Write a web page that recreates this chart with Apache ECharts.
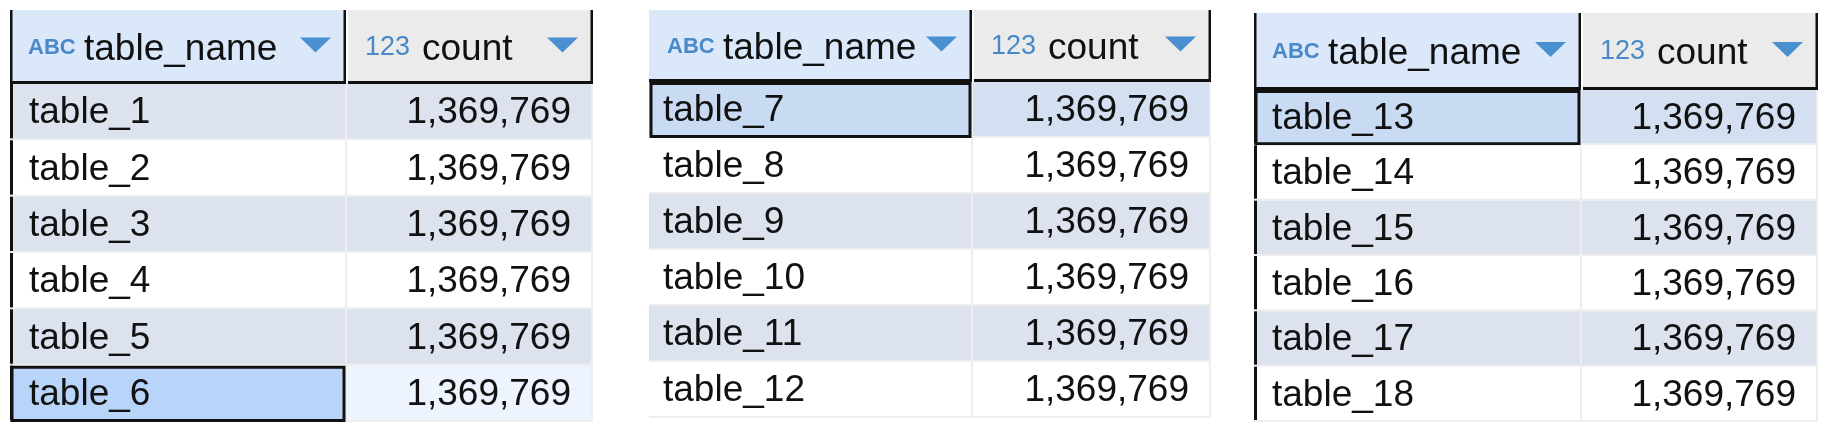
<!DOCTYPE html>
<html>
<head>
<meta charset="utf-8">
<title>table counts</title>
<script src="https://cdn.jsdelivr.net/npm/echarts@6/dist/echarts.min.js"></script>
<style>
  html, body { margin: 0; padding: 0; background: #fff; }
  #main { width: 1830px; height: 432px; }
</style>
</head>
<body>
<div id="main"></div>
<script>
// column headers of every result table
var headerNames = ['table_name', 'count'];
var headerTypes = ['ABC', '123'];

// rows of the three result tables
var names1 = ['table_1', 'table_2', 'table_3', 'table_4', 'table_5', 'table_6'];
var counts1 = [1369769, 1369769, 1369769, 1369769, 1369769, 1369769];
var names2 = ['table_7', 'table_8', 'table_9', 'table_10', 'table_11', 'table_12'];
var counts2 = [1369769, 1369769, 1369769, 1369769, 1369769, 1369769];
var names3 = ['table_13', 'table_14', 'table_15', 'table_16', 'table_17', 'table_18'];
var counts3 = [1369769, 1369769, 1369769, 1369769, 1369769, 1369769];

// focused cell in each table
var selected = ['table_6', 'table_7', 'table_13'];

var tables = [
  { names: names1, counts: counts1 },
  { names: names2, counts: counts2 },
  { names: names3, counts: counts3 }
];

// where each table sits on the page
var layout = [
  { left: 10, split: 347, right: 593, top: 10, head: 84, bottom: 422, pad: 19, edge: true },
  { left: 649, split: 973, right: 1211, top: 10, head: 82, bottom: 418, pad: 14, edge: false },
  { left: 1254, split: 1582, right: 1818, top: 13, head: 90, bottom: 422, pad: 18, edge: true }
];

var FONT = '"Liberation Sans", Arial, sans-serif';
var ODD = '#dce3ee', EVEN = '#ffffff', LINE = '#eeeeee', DARK = '#111111';

function fmt(n) {
  return n.toLocaleString('en-US');
}

function cellItem(t, col) {
  var lay = layout[t];
  var tab = tables[t];
  return function (params, api) {
    var cs = params.coordSys;
    var idx = api.value(1);
    var cy = api.coord([0, idx])[1];
    var h = api.size([0, 1])[1];
    var y0 = cy - h / 2;
    var isSel = tab.names[idx] === selected[t];
    var odd = idx % 2 === 0;
    var fill = odd ? ODD : EVEN;
    if (isSel && col === 1) fill = odd ? '#d4e0f1' : '#edf4fe';
    var kids = [
      { type: 'rect', shape: { x: cs.x, y: y0, width: cs.width, height: h }, style: { fill: fill } },
      { type: 'rect', shape: { x: cs.x, y: y0 + h - 2, width: cs.width, height: 2 }, style: { fill: LINE } },
      { type: 'rect', shape: { x: cs.x + cs.width - 2, y: y0, width: 2, height: h }, style: { fill: LINE } }
    ];
    if (col === 0) {
      if (lay.edge) {
        kids.push({ type: 'rect', shape: { x: cs.x, y: y0, width: 3, height: h - 2 }, style: { fill: DARK } });
      }
      if (isSel) {
        kids.push({
          type: 'rect',
          shape: { x: cs.x + 2, y: y0 + 1.5, width: cs.width - 5, height: h - 3 },
          style: { fill: odd ? '#c8dbf3' : '#b8d4f8', stroke: DARK, lineWidth: 3 }
        });
      }
      kids.push({
        type: 'text',
        style: {
          x: cs.x + lay.pad, y: cy + 1, text: tab.names[idx],
          font: '37px ' + FONT, fill: '#111', align: 'left', verticalAlign: 'middle'
        }
      });
    } else {
      kids.push({
        type: 'text',
        style: {
          x: cs.x + cs.width - 22, y: cy + 1, text: fmt(tab.counts[idx]),
          font: '37px ' + FONT, fill: '#111', align: 'right', verticalAlign: 'middle'
        }
      });
    }
    return { type: 'group', children: kids };
  };
}

function headerGraphics(t) {
  var lay = layout[t];
  var cy = (lay.top + lay.head - 3) / 2 + 1;
  var out = [];
  var cols = [
    { x0: lay.left, x1: lay.split - 1, bg: '#dbe8fa', leftEdge: lay.edge },
    { x0: lay.split + 1, x1: lay.right, bg: '#ebebeb', leftEdge: false }
  ];
  cols.forEach(function (c, i) {
    out.push({ type: 'rect', shape: { x: c.x0, y: lay.top, width: c.x1 - c.x0, height: lay.head - lay.top }, style: { fill: c.bg } });
    out.push({ type: 'rect', shape: { x: c.x0, y: lay.head - 3, width: c.x1 - c.x0, height: 3 }, style: { fill: DARK } });
    out.push({ type: 'rect', shape: { x: c.x1 - 2.5, y: lay.top, width: 2.5, height: lay.head - lay.top }, style: { fill: DARK } });
    if (c.leftEdge) {
      out.push({ type: 'rect', shape: { x: c.x0, y: lay.top, width: 2.5, height: lay.head - lay.top }, style: { fill: DARK } });
    }
    out.push({
      type: 'text',
      style: {
        x: i === 0 ? c.x0 + 18 : c.x0 + 17, y: cy + 1, text: headerTypes[i],
        font: i === 0 ? 'bold 22px ' + FONT : '27px ' + FONT,
        fill: '#4a89c9', align: 'left', verticalAlign: 'middle'
      }
    });
    out.push({
      type: 'text',
      style: {
        x: c.x0 + 74, y: cy + 3, text: headerNames[i],
        font: '37px ' + FONT, fill: '#111', align: 'left', verticalAlign: 'middle'
      }
    });
    var tr = c.x1 - 15;
    out.push({
      type: 'polygon',
      shape: { points: [[tr - 31, cy - 9], [tr, cy - 9], [tr - 15.5, cy + 6]] },
      style: { fill: '#4a8fd0' }
    });
  });
  return out;
}

var grids = [], xAxes = [], yAxes = [], series = [], graphics = [];
layout.forEach(function (lay, t) {
  var spans = [[lay.left, lay.split], [lay.split, lay.right]];
  spans.forEach(function (s, col) {
    var gi = grids.length;
    grids.push({ left: s[0], width: s[1] - s[0], top: lay.head, height: lay.bottom - lay.head, show: false });
    xAxes.push({ type: 'value', gridIndex: gi, min: 0, max: 1, show: false });
    yAxes.push({ type: 'category', gridIndex: gi, data: tables[t].names, inverse: true, show: false });
    series.push({
      type: 'custom',
      xAxisIndex: gi,
      yAxisIndex: gi,
      silent: true,
      renderItem: cellItem(t, col),
      data: tables[t].names.map(function (n, i) { return [0, n, tables[t].counts[i]]; })
    });
  });
  graphics = graphics.concat(headerGraphics(t));
});

var chart = echarts.init(document.getElementById('main'), null, { renderer: 'canvas' });
chart.setOption({
  animation: false,
  backgroundColor: '#ffffff',
  grid: grids,
  xAxis: xAxes,
  yAxis: yAxes,
  series: series,
  graphic: { elements: graphics }
});
</script>
</body>
</html>
